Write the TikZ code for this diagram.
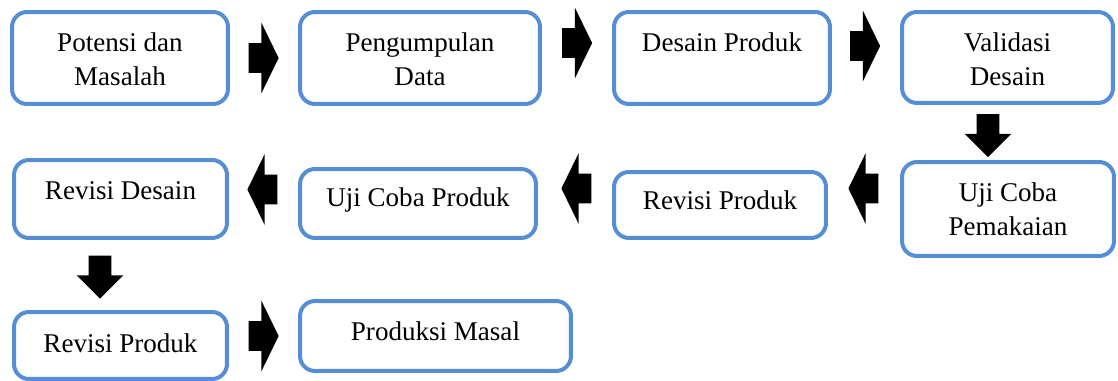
\documentclass[tikz,border=0pt]{standalone}
\usepackage{fontspec}
\setmainfont{Liberation Serif}
\usetikzlibrary{shapes.arrows}
\definecolor{boxblue}{RGB}{85,142,213}

\begin{document}
\begin{tikzpicture}[x=0.02cm, y=-0.02cm]
    \tikzset{
        stage/.style={draw=boxblue, line width=0.08cm, rounded corners=0.3cm, inner sep=0pt, outer sep=0pt,
            align=flush center, anchor=base, font=\fontsize{15.4}{18.8}\selectfont},
        rarrow/.style={single arrow, fill=black, inner xsep=0pt, inner ysep=0.29cm, minimum height=0.6cm,
            single arrow head extend=0.41cm, single arrow tip angle=128},
        larrow/.style={rarrow, rotate=180},
        darrow/.style={single arrow, fill=black, inner xsep=0pt, inner ysep=0.22cm, minimum height=0.86cm,
            single arrow head extend=0.24cm, single arrow tip angle=90, rotate=-90}
    }
    \useasboundingbox (0,0) rectangle (1118,381);

    % row 1
    \node[stage, text width=4.32cm, text height=0.80cm, text depth=1.04cm] (potensi) at (120,52) {Potensi dan\\Masalah};
    \node[stage, text width=4.80cm, text height=0.80cm, text depth=1.04cm] (data) at (420,52) {Pengumpulan\\Data};
    \node[stage, text width=4.32cm, text height=0.80cm, text depth=1.04cm] (desain) at (722,52) {Desain Produk};
    \node[stage, text width=4.22cm, text height=0.80cm, text depth=1.02cm] (validasi) at (1007.5,52) {Validasi\\Desain};

    % row 2
    \node[stage, text width=4.24cm, text height=0.80cm, text depth=1.08cm] (pemakaian) at (1008,202) {Uji Coba\\Pemakaian};
    \node[stage, text width=4.24cm, text height=0.76cm, text depth=0.56cm] (revprod) at (720,210) {Revisi Produk};
    \node[stage, text width=4.72cm, text height=0.76cm, text depth=0.62cm] (ujiprod) at (418,207) {Uji Coba Produk};
    \node[stage, text width=4.26cm, text height=0.80cm, text depth=0.76cm] (revdesain) at (120.5,200) {Revisi Desain};

    % row 3
    \node[stage, text width=4.26cm, text height=0.80cm, text depth=0.54cm] (revprod2) at (120.5,352) {Revisi Produk};
    \node[stage, text width=5.42cm, text height=0.78cm, text depth=0.62cm] (masal) at (435.5,340) {Produksi Masal};

    % block arrows
    \node[rarrow] (a1) at (260,58) {};
    \node[rarrow] (a2) at (573.5,43) {};
    \node[rarrow] (a3) at (861.5,46) {};
    \node[darrow] (a4) at (988,130) {};
    \node[larrow] (a5) at (867,188.5) {};
    \node[larrow] (a6) at (580,188.5) {};
    \node[larrow] (a7) at (266,189.5) {};
    \node[darrow] (a8) at (100,271.5) {};
    \node[rarrow] (a9) at (260,336) {};
\end{tikzpicture}
\end{document}
